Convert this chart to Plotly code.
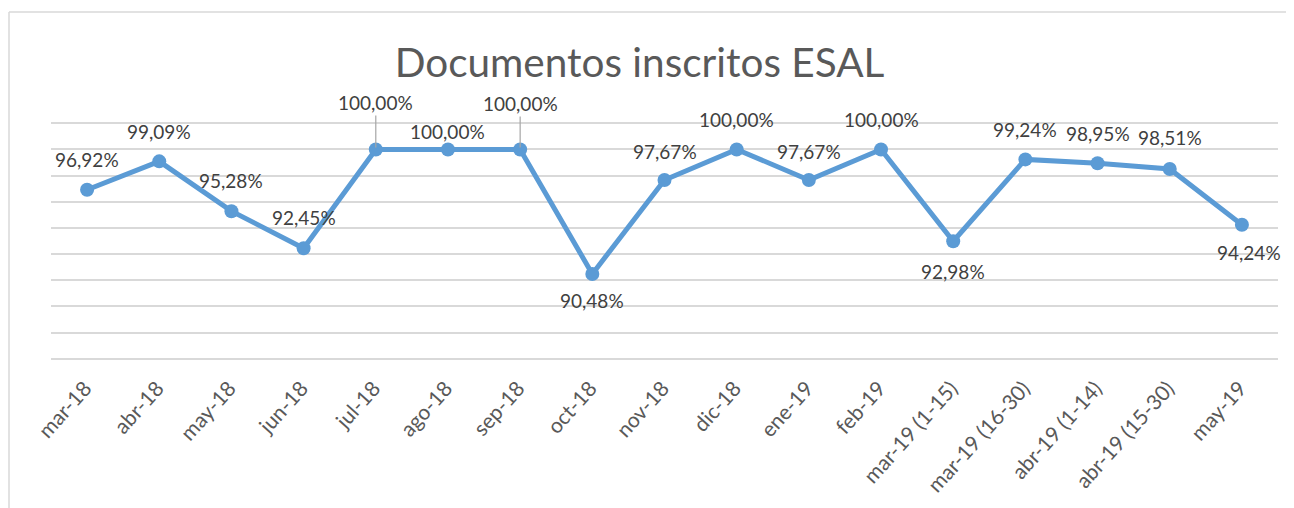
import plotly.graph_objects as go

categories = ["mar-18", "abr-18", "may-18", "jun-18", "jul-18", "ago-18", "sep-18",
              "oct-18", "nov-18", "dic-18", "ene-19", "feb-19", "mar-19 (1-15)",
              "mar-19 (16-30)", "abr-19 (1-14)", "abr-19 (15-30)", "may-19"]
values = [96.92, 99.09, 95.28, 92.45, 100.00, 100.00, 100.00, 90.48, 97.67,
          100.00, 97.67, 100.00, 92.98, 99.24, 98.95, 98.51, 94.24]

# label placement (pixel offsets) and leader-line flags
label_yshift = [30, 30, 31, 31, 47, 18, 46, -27, 28, 30, 28, 30, -30, 30, 30, 31, -28]
label_leader = [False, False, False, False, True, False, True, False, False,
                False, False, False, False, False, False, False, False]
label_xshift = [0] * 16 + [7]

# the page body has an 8px default margin: figure is sized to fill the rest
OFF = 8
W, H = 1294 - OFF, 508 - OFF
ML, MR, MT, MB = 51 - OFF, 16, 114, 148
PW, PH = W - ML - MR, H - MT - MB

FONT = "Lato"
LINE = "#5b9bd5"

fig = go.Figure()
fig.add_trace(go.Scatter(
    x=categories, y=values, mode="lines+markers",
    line=dict(color=LINE, width=5),
    marker=dict(color=LINE, size=14),
    hoverinfo="skip", showlegend=False,
))

annotations = []
for c, v, dy, lead, dx in zip(categories, values, label_yshift, label_leader, label_xshift):
    txt = f"{v:.2f}".replace(".", ",") + "%"
    if lead:
        annotations.append(dict(
            x=c, y=v, xref="x", yref="y", text=txt, showarrow=True,
            ax=0, ay=-dy, arrowhead=0, arrowwidth=1.2, arrowcolor="#a6a6a6",
            standoff=2, font=dict(family=FONT, size=19, color="#404040"),
        ))
    else:
        annotations.append(dict(
            x=c, y=v, xref="x", yref="y", text=txt, showarrow=False,
            yshift=dy, xshift=dx, xanchor="center", yanchor="middle",
            font=dict(family=FONT, size=19, color="#404040"),
        ))

# chart-area border (left and top edges visible)
bx0 = (9 - OFF - ML) / PW
by1 = (H - MB - (12 - OFF)) / PH
shapes = [
    dict(type="line", xref="paper", yref="paper", x0=bx0, x1=bx0, y0=by1, y1=-5,
         line=dict(color="#d9d9d9", width=1.5)),
    dict(type="line", xref="paper", yref="paper", x0=bx0, x1=2, y0=by1, y1=by1,
         line=dict(color="#d9d9d9", width=1.5)),
]

fig.update_layout(
    width=W, height=H,
    margin=dict(l=ML, r=MR, t=MT, b=MB, autoexpand=False),
    paper_bgcolor="white", plot_bgcolor="white",
    title=dict(text="Documentos inscritos ESAL", xref="container",
               x=(639.5 - OFF) / W, xanchor="center",
               y=1 - (63 - OFF) / H, yanchor="middle",
               font=dict(family=FONT, size=40.5, color="#595959")),
    xaxis=dict(type="category", range=[-0.5, len(categories) - 0.5],
               showgrid=False, showline=False, zeroline=False, ticks="",
               automargin=False, ticklabelstandoff=11, ticklabelshift=-2,
               tickangle=-48, tickfont=dict(family=FONT, size=21, color="#595959")),
    yaxis=dict(range=[83.9, 102.1], tickvals=list(range(84, 103, 2)),
               showticklabels=False,
               showgrid=True, gridcolor="#d9d9d9", gridwidth=1.5, automargin=False,
               zeroline=False, showline=False, ticks=""),
    annotations=annotations,
    shapes=shapes,
)

fig.write_html("out.html")
